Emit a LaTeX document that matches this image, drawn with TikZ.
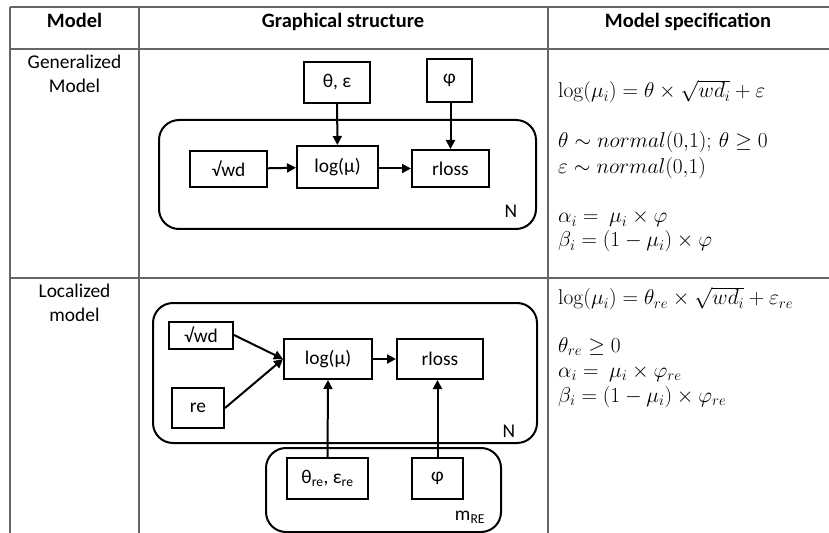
\documentclass[tikz,border=0pt]{standalone}
\usepackage{fix-cm}
\usepackage[no-math]{fontspec}
\setmainfont{Carlito}
\usetikzlibrary{arrows.meta}
\begin{document}
\begin{tikzpicture}[x=1bp,y=-1bp,
  grid/.style={draw=gray!80!black,line width=1.5bp},
  box/.style={draw,line width=2bp,inner sep=0pt,font=\fontsize{19.5}{22}\selectfont},
  plate/.style={draw,line width=2bp,rounded corners=20bp},
  arr/.style={line width=2bp,-{Triangle[length=9bp,width=9bp]}},
  lbl/.style={font=\fontsize{19.5}{22}\selectfont,inner sep=0pt},
  hdr/.style={font=\bfseries\fontsize{20.5}{24}\selectfont,inner sep=0pt,anchor=base},
  eq/.style={font=\fontsize{21.5}{24}\selectfont,inner sep=0pt,anchor=base west},
  side/.style={font=\fontsize{19.5}{22}\selectfont,inner sep=0pt,anchor=base}]
\useasboundingbox (0,0) rectangle (829,533);
% table
\draw[grid] (10,7) -- (829,7);
\draw[grid] (10,49) -- (829,49);
\draw[grid] (10,278) -- (829,278);
\draw[grid] (10,7) -- (10,533);
\draw[grid] (139,7) -- (139,533);
\draw[grid] (548,7) -- (548,533);
% headers
\node[hdr] (h1) at (74.5,28) {Model};
\node[hdr] (h2) at (343,28) {Graphical structure};
\node[hdr] (h3) at (688,28) {Model specification};
\node[side] (g1) at (74.5,69) {Generalized};
\node[side] (g2) at (74.5,93) {Model};
\node[side] (l1) at (74.5,298) {Localized};
\node[side] (l2) at (74.5,322) {model};
% generalized diagram
\draw[plate] (159,120) rectangle (536,229);
\node[lbl] (n1) at (511,211) {N};
\node[box,minimum width=66bp,minimum height=41bp] (te1) at (337,82.5) {θ, ε};
\node[box,minimum width=45bp,minimum height=43bp] (phi1) at (449.5,80.5) {φ};
\node[box,minimum width=77bp,minimum height=36bp] (wd1) at (228.5,169) {√wd};
\node[box,minimum width=81bp,minimum height=42bp] (log1) at (337.5,167) {log(μ)};
\node[box,minimum width=77bp,minimum height=37bp] (rl1) at (450.5,168.5) {rloss};
\draw[arr] (wd1) -- (log1);
\draw[arr] (log1.east |- rl1) -- (rl1);
\draw[arr] (te1) -- (log1);
\draw[arr] (phi1.south -| rl1) -- (rl1);
% localized diagram
\draw[plate] (153,303) rectangle (537,443);
\node[lbl] (n2) at (509,431) {N};
\draw[plate] (266,448) rectangle (501,532);
\node[lbl] (m2) at (470,517) {m\textsubscript{RE}};
\node[box,minimum width=64bp,minimum height=27bp] (wd2) at (201,335) {√wd};
\node[box,minimum width=52bp,minimum height=40bp] (re2) at (198,408) {re};
\node[box,minimum width=88bp,minimum height=40bp] (log2) at (328,359) {log(μ)};
\node[box,minimum width=86bp,minimum height=40bp] (rl2) at (440,359) {rloss};
\node[box,minimum width=81bp,minimum height=41bp] (te2) at (327.5,478.5) {θ\textsubscript{re}, ε\textsubscript{re}};
\node[box,minimum width=51bp,minimum height=41bp] (phi2) at (437.5,478.5) {φ};
\draw[arr] (wd2.east) -- (log2.west);
\draw[arr] (re2.east) -- (log2.west);
\draw[arr] (log2) -- (rl2);
\draw[arr] (te2.north) -- (log2.south);
\draw[arr] (phi2.north) -- (phi2.north |- rl2.south);
% equations
\node[eq] (e1) at (558,98) {$\log(\mu_i) = \theta \times \sqrt{wd_i} + \varepsilon$};
\node[eq] (e2) at (558,148) {$\theta \sim normal(0{,}1);\, \theta \geq 0$};
\node[eq] (e3) at (558,174) {$\varepsilon \sim normal(0{,}1)$};
\node[eq] (e4) at (558,223) {$\alpha_i =\ \mu_i \times \varphi$};
\node[eq] (e5) at (558,247) {$\beta_i = (1-\mu_i) \times \varphi$};
\node[eq] (f1) at (558,305) {$\log(\mu_i) = \theta_{re} \times \sqrt{wd_i} + \varepsilon_{re}$};
\node[eq] (f2) at (558,352) {$\theta_{re} \geq 0$};
\node[eq] (f3) at (558,377) {$\alpha_i =\ \mu_i \times \varphi_{re}$};
\node[eq] (f4) at (558,402) {$\beta_i = (1-\mu_i) \times \varphi_{re}$};
\end{tikzpicture}
\end{document}
